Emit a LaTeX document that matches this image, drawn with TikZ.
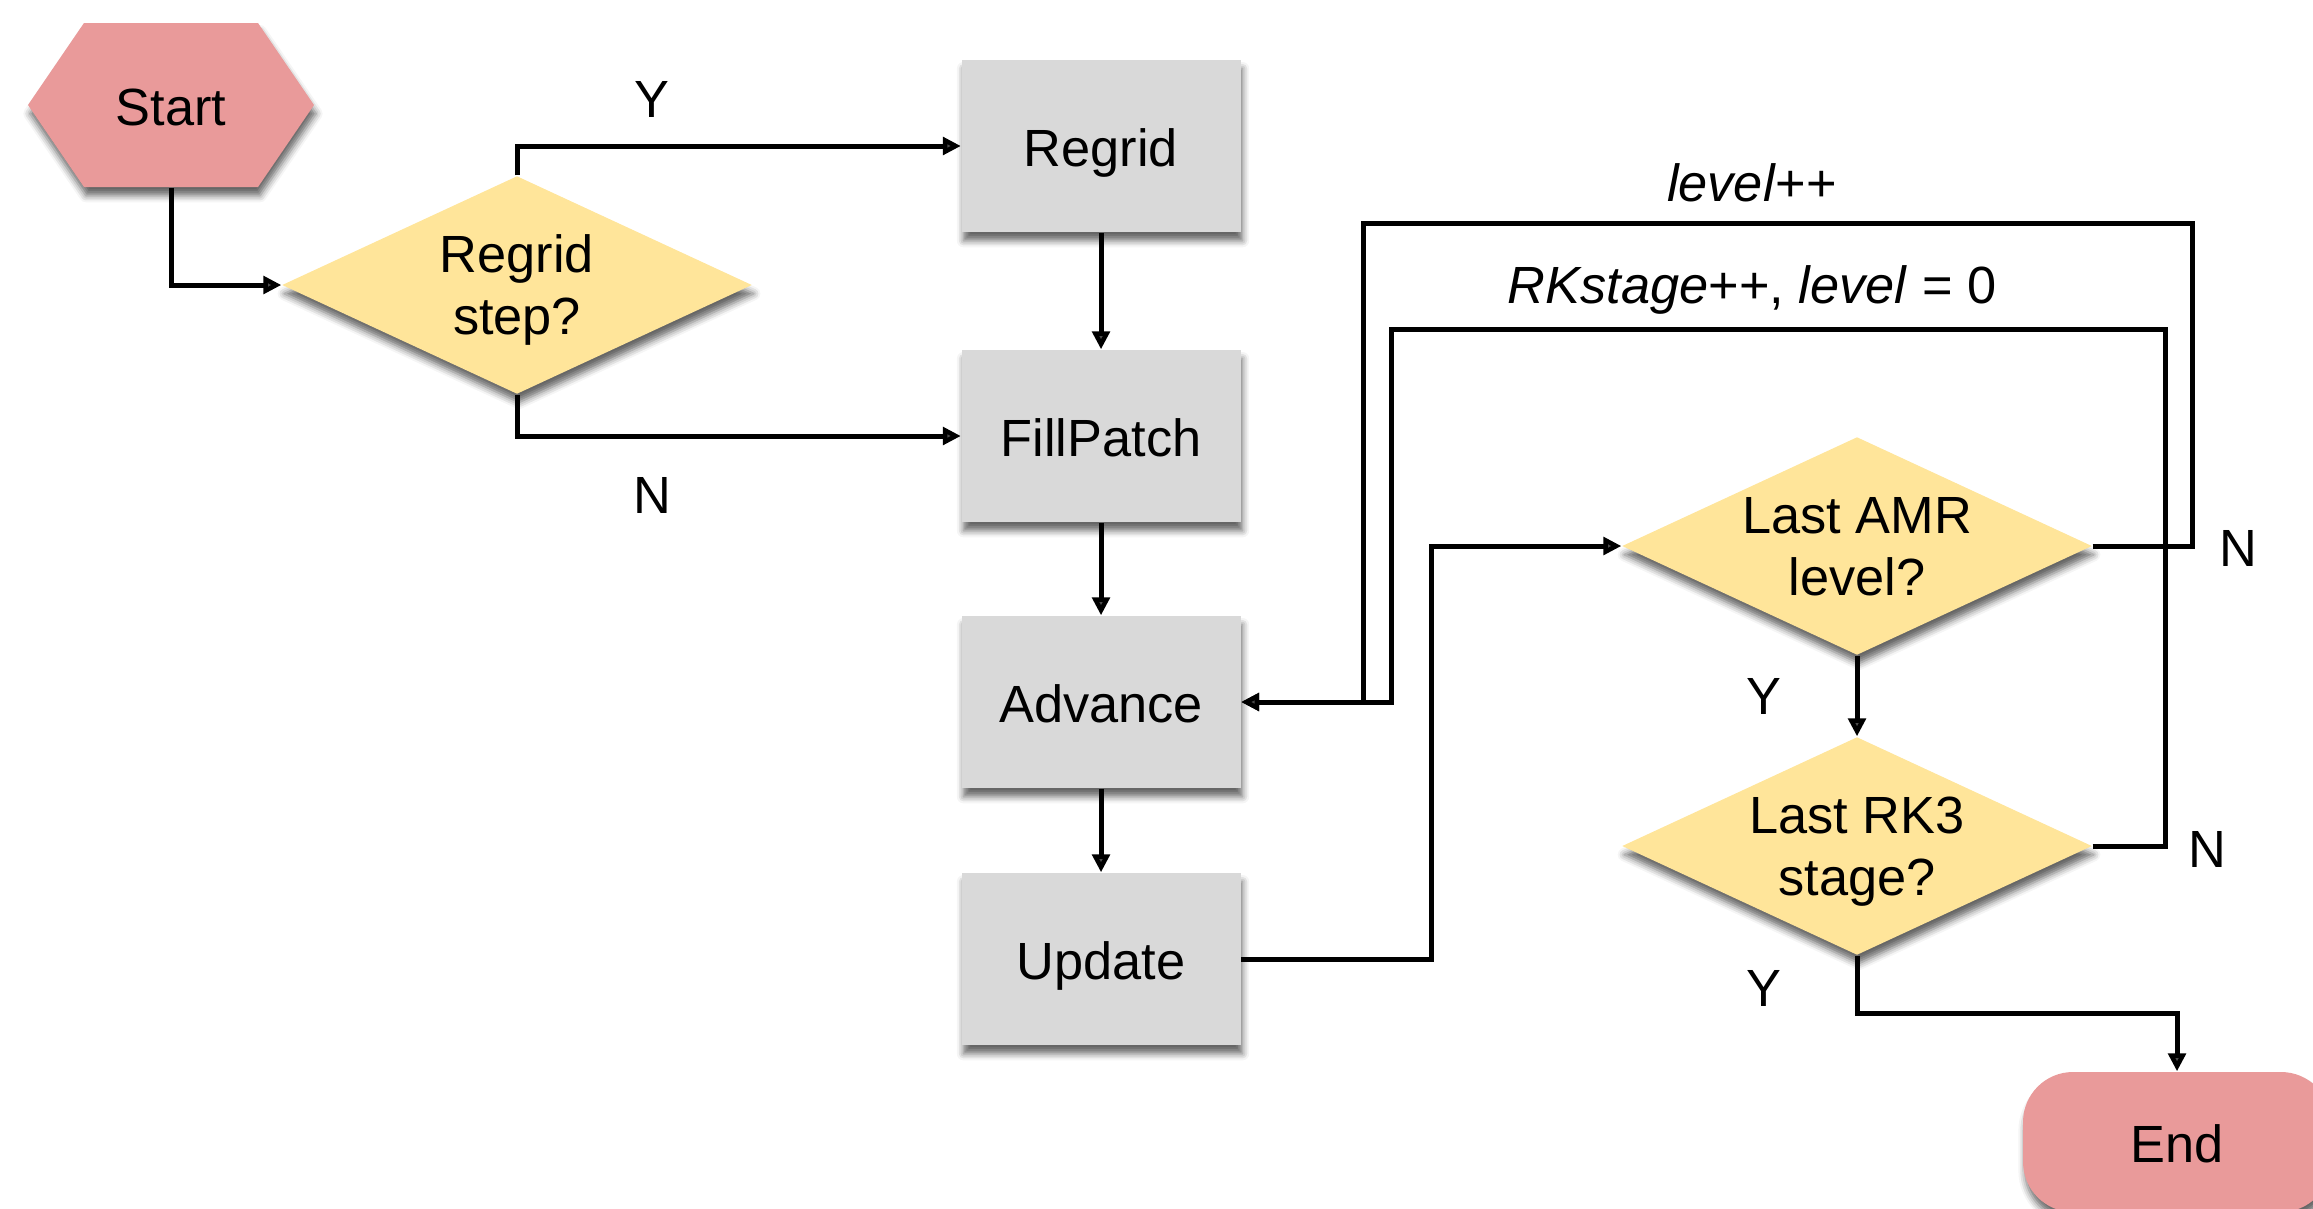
\documentclass[tikz,border=0pt]{standalone}
\usepackage{fontspec}
\setmainfont{Liberation Sans}
\usetikzlibrary{shapes.geometric,arrows.meta,shadows.blur}
\definecolor{pinkc}{HTML}{E99A9A}
\definecolor{yellowc}{HTML}{FFE59A}
\definecolor{grayc}{HTML}{D9D9D9}
\tikzset{
  shd/.style={blur shadow={shadow xshift=0.6pt,shadow yshift=-2.6pt,shadow blur radius=2pt,shadow opacity=60}},
  txt/.style={font=\fontsize{15.7}{18.6}\selectfont,align=center},
  onetxt/.style={txt,text height=12pt,text depth=0pt},
  procbox/.style={onetxt,rectangle,fill=grayc,minimum width=83.7pt,minimum height=51.6pt,inner sep=0pt,shd},
  decbox/.style={txt,text depth=0pt,diamond,aspect=2.17,fill=yellowc,minimum width=141pt,minimum height=65.4pt,inner sep=0pt,shd},
  termbox/.style={onetxt,rectangle,rounded corners=15pt,fill=pinkc,minimum width=92.4pt,minimum height=42pt,inner sep=0pt,shd},
  conn/.style={line width=1.5pt},
  arr/.style={conn,-{Triangle[length=5.4pt,width=5.2pt]}},
  lbl/.style={onetxt}
}
\begin{document}
\begin{tikzpicture}[x=0.3pt,y=-0.3pt]
\useasboundingbox (0,0) rectangle (2313,1208);
% Start hexagon
\fill[pinkc,shd] (28,105) -- (84,23) -- (258,23) -- (314,105) -- (258,187) -- (84,187) -- cycle;
\node[onetxt,minimum width=85.8pt,minimum height=49.2pt,inner sep=0pt] (start) at (171,105) {Start};
% Nodes
\node[decbox] (rs) at (517,285) {Regrid\\step?};
\node[procbox] (regrid) at (1101,146) {Regrid};
\node[procbox] (fill) at (1101,436) {FillPatch};
\node[procbox] (adv) at (1101,702) {Advance};
\node[procbox] (upd) at (1101,959) {Update};
\node[decbox] (amr) at (1857,546) {Last AMR\\level?};
\node[decbox] (rk) at (1857,846) {Last RK3\\stage?};
\node[termbox] (end) at (2177,1142) {End};
% helper coordinates
\coordinate (c1) at (1431,959);
\coordinate (o1) at (2192,223);
\coordinate (o2) at (1363,223);
\coordinate (i1) at (2165,329);
\coordinate (i2) at (1391,329);
\coordinate (e1) at (1857,1013);
% Connectors
\draw[arr] (start.south) |- (rs.west);
\draw[arr] (rs.north) |- (regrid.west);
\draw[arr] (rs.south) |- (fill.west);
\draw[arr] (regrid.south) -- (fill.north);
\draw[arr] (fill.south) -- (adv.north);
\draw[arr] (adv.south) -- (upd.north);
\draw[arr] (upd.east) -- (c1) |- (amr.west);
\draw[arr] (amr.south) -- (rk.north);
\draw[arr] (amr.east) -| (o1) -- (o2) |- (adv.east);
\draw[arr] (rk.east) -| (i1) -- (i2) |- (adv.east);
\draw[arr] (rk.south) -- (e1) -| (end.north);
% Labels
\node[lbl] (ly1) at (652,97) {Y};
\node[lbl] (ln1) at (652,493) {N};
\node[lbl] (llev) at (1752,181) {\textit{level}++};
\node[lbl] (lrk) at (1752,283) {\textit{RKstage}++, \textit{level} = 0};
\node[lbl] (ln2) at (2238,546) {N};
\node[lbl] (ln3) at (2207,847) {N};
\node[lbl] (ly2) at (1764,694) {Y};
\node[lbl] (ly3) at (1764,986) {Y};
\end{tikzpicture}
\end{document}
